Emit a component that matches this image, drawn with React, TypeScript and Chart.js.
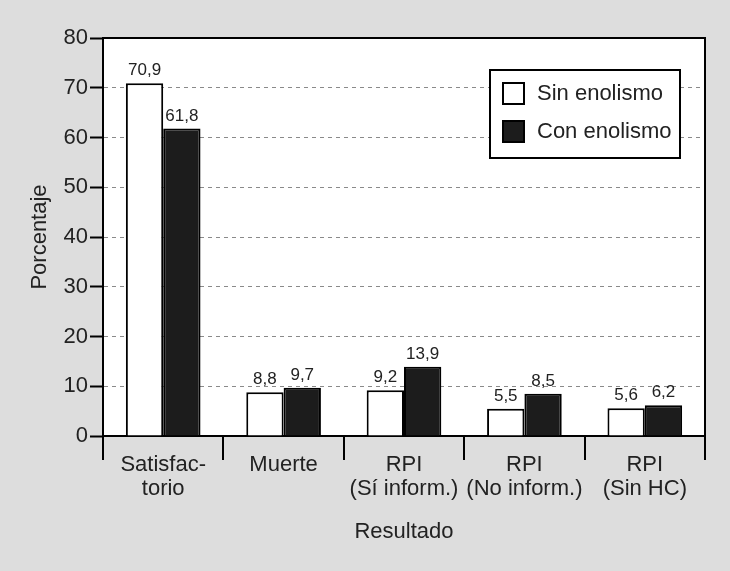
import { useEffect, useRef } from "react";
import { Chart, registerables } from "chart.js";

Chart.register(...registerables);

const categories: string[][] = [
  ["Satisfac-", "torio"],
  ["Muerte"],
  ["RPI", "(Sí inform.)"],
  ["RPI", "(No inform.)"],
  ["RPI", "(Sin HC)"],
];
const seriesNames = ["Sin enolismo", "Con enolismo"];
const sinEnolismo = [70.9, 8.8, 9.2, 5.5, 5.6];
const conEnolismo = [61.8, 9.7, 13.9, 8.5, 6.2];
const yMin = 0;
const yMax = 80;
const yStep = 10;
const yTitle = "Porcentaje";
const xTitle = "Resultado";

const FONT = "'Liberation Sans', Arial, sans-serif";
const BG = "#dddddd";
const TEXT = "#222222";
const FILLS = ["#ffffff", "#1c1c1c"];

const fmt = (v: number) => v.toFixed(1).replace(".", ",");

const framePlugin = {
  id: "frame",
  beforeDraw(chart: any) {
    const { ctx, chartArea: a, width, height } = chart;
    ctx.save();
    ctx.fillStyle = BG;
    ctx.fillRect(0, 0, width, height);
    ctx.fillStyle = "#ffffff";
    ctx.fillRect(a.left, a.top, a.right - a.left, a.bottom - a.top);
    ctx.restore();
  },
  afterDatasetsDraw(chart: any) {
    const { ctx } = chart;
    ctx.save();
    ctx.font = `17px ${FONT}`;
    ctx.fillStyle = TEXT;
    ctx.textAlign = "center";
    ctx.textBaseline = "bottom";
    chart.data.datasets.forEach((ds: any, di: number) => {
      const meta = chart.getDatasetMeta(di);
      meta.data.forEach((bar: any, i: number) => {
        ctx.fillText(fmt(ds.data[i]), bar.x, bar.y - 4);
      });
    });
    ctx.restore();
  },
  afterDraw(chart: any) {
    const { ctx, chartArea: a } = chart;
    ctx.save();
    ctx.strokeStyle = "#000";
    ctx.lineWidth = 2;
    ctx.beginPath();
    ctx.moveTo(a.left, a.top);
    ctx.lineTo(a.right, a.top);
    ctx.lineTo(a.right, a.bottom);
    ctx.stroke();

    // legend
    const lx = a.right - 215;
    const ly = a.top + 32;
    const lw = 190;
    const lh = 88;
    ctx.fillStyle = "#fff";
    ctx.fillRect(lx, ly, lw, lh);
    ctx.strokeRect(lx, ly, lw, lh);
    ctx.font = `22px ${FONT}`;
    ctx.textAlign = "left";
    ctx.textBaseline = "middle";
    chart.data.datasets.forEach((ds: any, di: number) => {
      const cy = ly + 23 + di * 38;
      ctx.fillStyle = ds.backgroundColor;
      ctx.fillRect(lx + 13, cy - 10, 21, 21);
      ctx.lineWidth = 2;
      ctx.strokeStyle = "#000";
      ctx.strokeRect(lx + 13, cy - 10, 21, 21);
      ctx.fillStyle = TEXT;
      ctx.fillText(ds.label, lx + 47, cy + 1);
    });
    ctx.restore();
  },
};

export default function App() {
  const ref = useRef<HTMLCanvasElement | null>(null);

  useEffect(() => {
    document.body.style.margin = "0";
    if (!ref.current) return;
    const chart = new Chart(ref.current, {
      type: "bar",
      data: {
        labels: categories,
        datasets: [
          {
            label: seriesNames[0],
            data: sinEnolismo,
            backgroundColor: FILLS[0],
            borderColor: "#000",
            borderWidth: 2,
          },
          {
            label: seriesNames[1],
            data: conEnolismo,
            backgroundColor: FILLS[1],
            borderColor: "#000",
            borderWidth: 2,
          },
        ],
      },
      options: {
        responsive: false,
        animation: false,
        devicePixelRatio: 1,
        layout: { padding: { left: 0, top: 38, right: 25, bottom: 0 } },
        plugins: {
          legend: { display: false },
          tooltip: { enabled: false },
        },
        datasets: {
          bar: { categoryPercentage: 0.62, barPercentage: 1 },
        },
        scales: {
          x: {
            offset: true,
            afterFit: (s: any) => {
              s.height = 135;
            },
            grid: {
              offset: true,
              drawOnChartArea: false,
              drawTicks: true,
              tickLength: 24,
              tickColor: "#000",
              tickWidth: 2,
              color: "#000",
              lineWidth: 2,
            },
            border: { display: true, color: "#000", width: 2 },
            ticks: {
              color: TEXT,
              font: { family: FONT, size: 22, lineHeight: 1.1 },
              padding: -7,
              maxRotation: 0,
              autoSkip: false,
            },
            title: {
              display: true,
              text: xTitle,
              color: TEXT,
              font: { family: FONT, size: 22 },
              padding: { top: 0, bottom: 26 },
            },
          },
          y: {
            min: yMin,
            max: yMax,
            afterFit: (s: any) => {
              s.width = 103;
            },
            ticks: {
              stepSize: yStep,
              color: TEXT,
              font: { family: FONT, size: 22 },
              padding: 2,
            },
            grid: {
              color: (c: any) =>
                c.tick && (c.tick.value === yMax || c.tick.value === yMin)
                  ? "rgba(0,0,0,0)"
                  : "#8a8a8a",
              lineWidth: 1,
              drawTicks: true,
              tickLength: 13,
              tickColor: "#000",
              tickWidth: 2,
              tickBorderDash: [],
            },
            border: { display: true, color: "#000", width: 2, dash: [4, 4] },
            title: {
              display: true,
              text: yTitle,
              color: TEXT,
              font: { family: FONT, size: 22 },
              padding: { top: 27, bottom: 0 },
            },
          },
        },
      },
      plugins: [framePlugin],
    });
    return () => chart.destroy();
  }, []);

  return (
    <div style={{ width: 730, height: 571 }}>
      <canvas ref={ref} width={730} height={571} />
    </div>
  );
}
